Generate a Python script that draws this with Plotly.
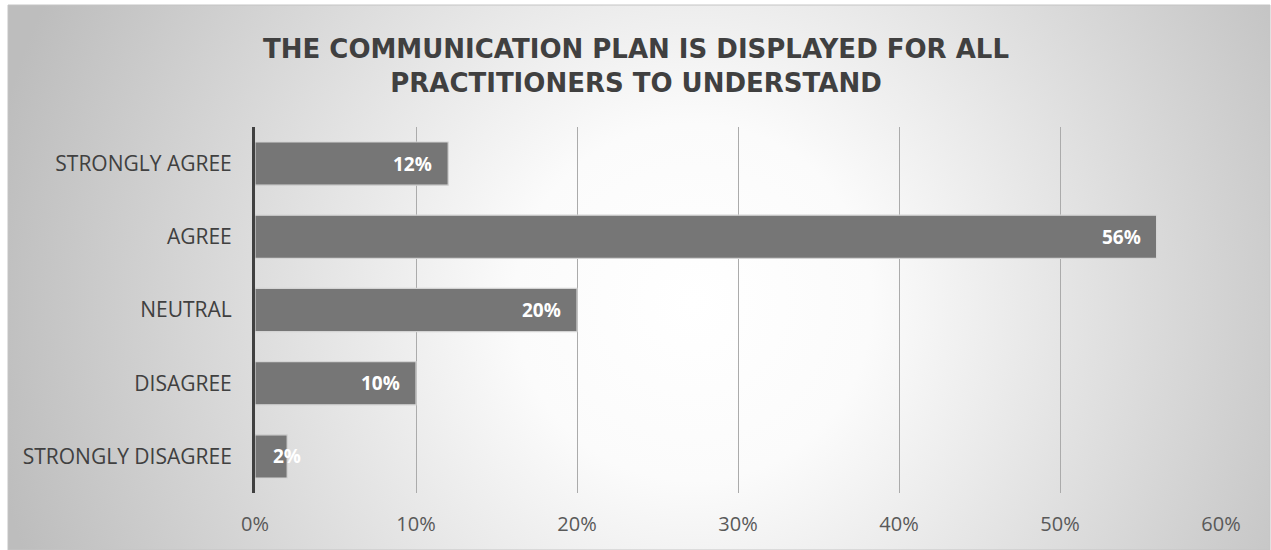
import base64
import plotly.graph_objects as go

# Survey responses (percent of practitioners)
categories = ["STRONGLY AGREE", "AGREE", "NEUTRAL", "DISAGREE", "STRONGLY DISAGREE"]
values = [12, 56, 20, 10, 2]
tick_values = [0, 10, 20, 30, 40, 50, 60]
tick_labels = ["0%", "10%", "20%", "30%", "40%", "50%", "60%"]
title_lines = ["THE COMMUNICATION PLAN IS DISPLAYED FOR ALL", "PRACTITIONERS TO UNDERSTAND"]

W, H = 1271, 550

# Radial grey-to-white background for the chart area
bg_svg = f"""<svg xmlns='http://www.w3.org/2000/svg' width='{W}' height='{H}' viewBox='0 0 {W} {H}' preserveAspectRatio='none'>
<defs><radialGradient id='g' gradientUnits='userSpaceOnUse' cx='690' cy='300' r='720'>
<stop offset='0' stop-color='#ffffff'/><stop offset='0.25' stop-color='#fbfbfb'/>
<stop offset='1' stop-color='#bdbdbd'/></radialGradient></defs>
<rect x='0' y='0' width='{W}' height='{H}' fill='url(#g)'/></svg>"""
bg_uri = "data:image/svg+xml;base64," + base64.b64encode(bg_svg.encode()).decode()

fig = go.Figure()
fig.add_trace(go.Bar(
    y=categories,
    x=values,
    orientation="h",
    width=0.59,
    marker=dict(color="#767676", line=dict(color="#d4d4d4", width=1.2)),
    hoverinfo="skip",
))

# Value labels placed at the bar end, centred on the end for very short bars
for cat, v in zip(categories, values):
    short = v < 5
    fig.add_annotation(
        x=v, y=cat, xref="x", yref="y",
        text=f"<b>{v}%</b>",
        showarrow=False,
        xanchor="center" if short else "right",
        xshift=0 if short else -14,
        font=dict(family="Open Sans", size=19, color="#ffffff"),
    )

fig.add_annotation(
    x=0.5, y=(H - 66) / H, xref="paper", yref="paper",
    text="<b>" + "<br>".join(title_lines) + "</b>",
    showarrow=False, xanchor="center", yanchor="middle",
    font=dict(family="DejaVu Sans", size=26, color="#404040"),
)

x0, x1 = 255 / W, 1221 / W
y0, y1 = (H - 493) / H, (H - 127) / H

fig.update_layout(
    width=W, height=H,
    margin=dict(l=0, r=0, t=0, b=0),
    paper_bgcolor="#ffffff",
    plot_bgcolor="rgba(0,0,0,0)",
    showlegend=False,
    images=[dict(source=bg_uri, xref="paper", yref="paper", x=8 / W, y=1 - 5 / H,
                 sizex=(W - 9) / W, sizey=(H - 5) / H, sizing="stretch",
                 xanchor="left", yanchor="top", layer="below")],
    shapes=[dict(type="rect", xref="paper", yref="paper", x0=8 / W, x1=1 - 1 / W,
                 y0=0, y1=1 - 5 / H, line=dict(color="#c4c4c4", width=1), layer="below")],
    xaxis=dict(
        domain=[x0, x1], range=[0, 60], tickvals=tick_values, ticktext=tick_labels,
        showgrid=True, gridcolor="#ababab", gridwidth=1, zeroline=False,
        showline=False, ticks="", ticklabelstandoff=17, automargin=False,
        tickfont=dict(family="Open Sans", size=20, color="#595959"), fixedrange=True,
    ),
    yaxis=dict(
        domain=[y0, y1], categoryorder="array", categoryarray=categories[::-1],
        showgrid=False, zeroline=False, showline=True, linecolor="#404040", linewidth=3,
        ticks="", ticklabelstandoff=16, automargin=False,
        tickfont=dict(family="Open Sans", size=21, color="#404040"), fixedrange=True,
    ),
)

fig.write_html("out.html")
